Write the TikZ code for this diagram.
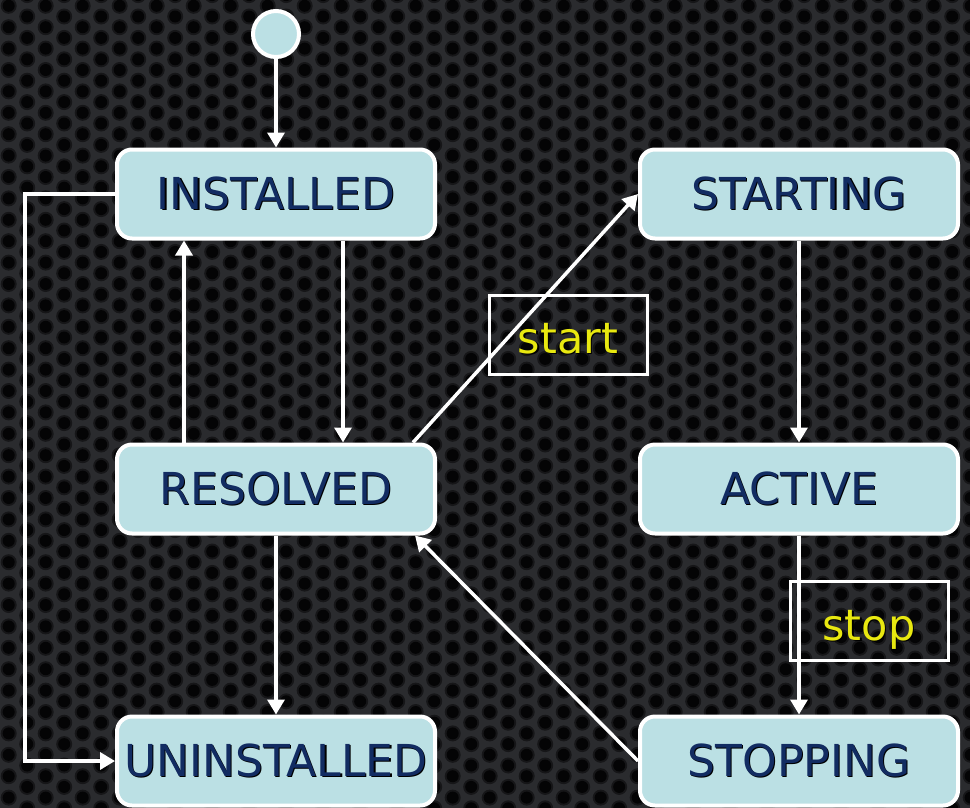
\documentclass[tikz,border=0pt]{standalone}
\usepackage{fontspec}
\setmainfont{DejaVu Sans}
\usetikzlibrary{arrows.meta}
\definecolor{bgbase}{RGB}{42,43,46}
\definecolor{holering}{RGB}{22,22,24}
\definecolor{holecore}{RGB}{4,4,5}
\definecolor{boxfill}{RGB}{187,224,228}
\definecolor{boxtext}{RGB}{18,44,98}
\definecolor{lblyellow}{RGB}{232,232,16}
\newcommand{\shadowed}[2]{\leavevmode\rlap{\kern1.1pt\raisebox{-1.1pt}{\textcolor{black}{#2}}}\textcolor{#1}{#2}}
\begin{document}
\begin{tikzpicture}[x=1pt,y=-1pt,
  state/.style={draw=white, line width=4pt, fill=boxfill, rounded corners=15pt,
    minimum width=318pt, minimum height=89pt, inner sep=0pt,
    font=\fontsize{44}{50}\selectfont},
  initstate/.style={circle, draw=white, line width=4pt, fill=boxfill, minimum size=46pt, inner sep=0pt},
  lblbox/.style={draw=white, line width=3.5pt, minimum width=158pt, minimum height=79pt, inner sep=0pt},
  lbltext/.style={font=\fontsize{43}{50}\selectfont, inner sep=0pt, anchor=base},
  trans/.style={draw=white, line width=3.5pt, -{Triangle[length=15pt,width=17pt]}}
]
\useasboundingbox (0,0) rectangle (970,807);
\fill[bgbase] (-10,-10) rectangle (980,817);
\fill[holering] \foreach \i in {0,...,53}{ \foreach \j in {-1,...,38}{ ({8.7+\i*18.5},{5.8+\j*21.4+mod(\i,2)*10.7}) circle (8pt) } };
\fill[holecore] \foreach \i in {0,...,53}{ \foreach \j in {-1,...,38}{ ({8.7+\i*18.5},{5.8+\j*21.4+mod(\i,2)*10.7}) circle (6pt) } };

\node[initstate] (init) at (276,34) {};
\node[state] (installed) at (276,194) {\shadowed{boxtext}{INSTALLED}};
\node[state] (resolved) at (276,489) {\shadowed{boxtext}{RESOLVED}};
\node[state] (uninstalled) at (276,761) {\shadowed{boxtext}{UNINSTALLED}};
\node[state] (starting) at (799,194) {\shadowed{boxtext}{STARTING}};
\node[state] (active) at (799,489) {\shadowed{boxtext}{ACTIVE}};
\node[state] (stopping) at (799,761) {\shadowed{boxtext}{STOPPING}};

\coordinate (leftrail) at (25,761);

\draw[trans] (init) -- (installed.north);
\draw[trans] ([xshift=67pt]installed.south) -- ([xshift=67pt]resolved.north);
\draw[trans] ([xshift=-92pt]resolved.north) -- ([xshift=-92pt]installed.south);
\draw[trans] (installed.west) -| (leftrail) -- (uninstalled.west);
\draw[trans] (resolved.south) -- (uninstalled.north);
\draw[trans] ([xshift=-24pt]resolved.north east) -- (starting.west);
\draw[trans] (starting.south) -- (active.north);
\draw[trans] (active.south) -- (stopping.north);
\draw[trans] (stopping.west) -- ([xshift=-22pt]resolved.south east);

\node[lblbox] (startbox) at (568.5,335) {};
\node[lbltext] (starttext) at (568,353) {\shadowed{lblyellow}{start}};
\node[lblbox] (stopbox) at (869.5,621) {};
\node[lbltext] (stoptext) at (869,640) {\shadowed{lblyellow}{stop}};
\end{tikzpicture}
\end{document}
